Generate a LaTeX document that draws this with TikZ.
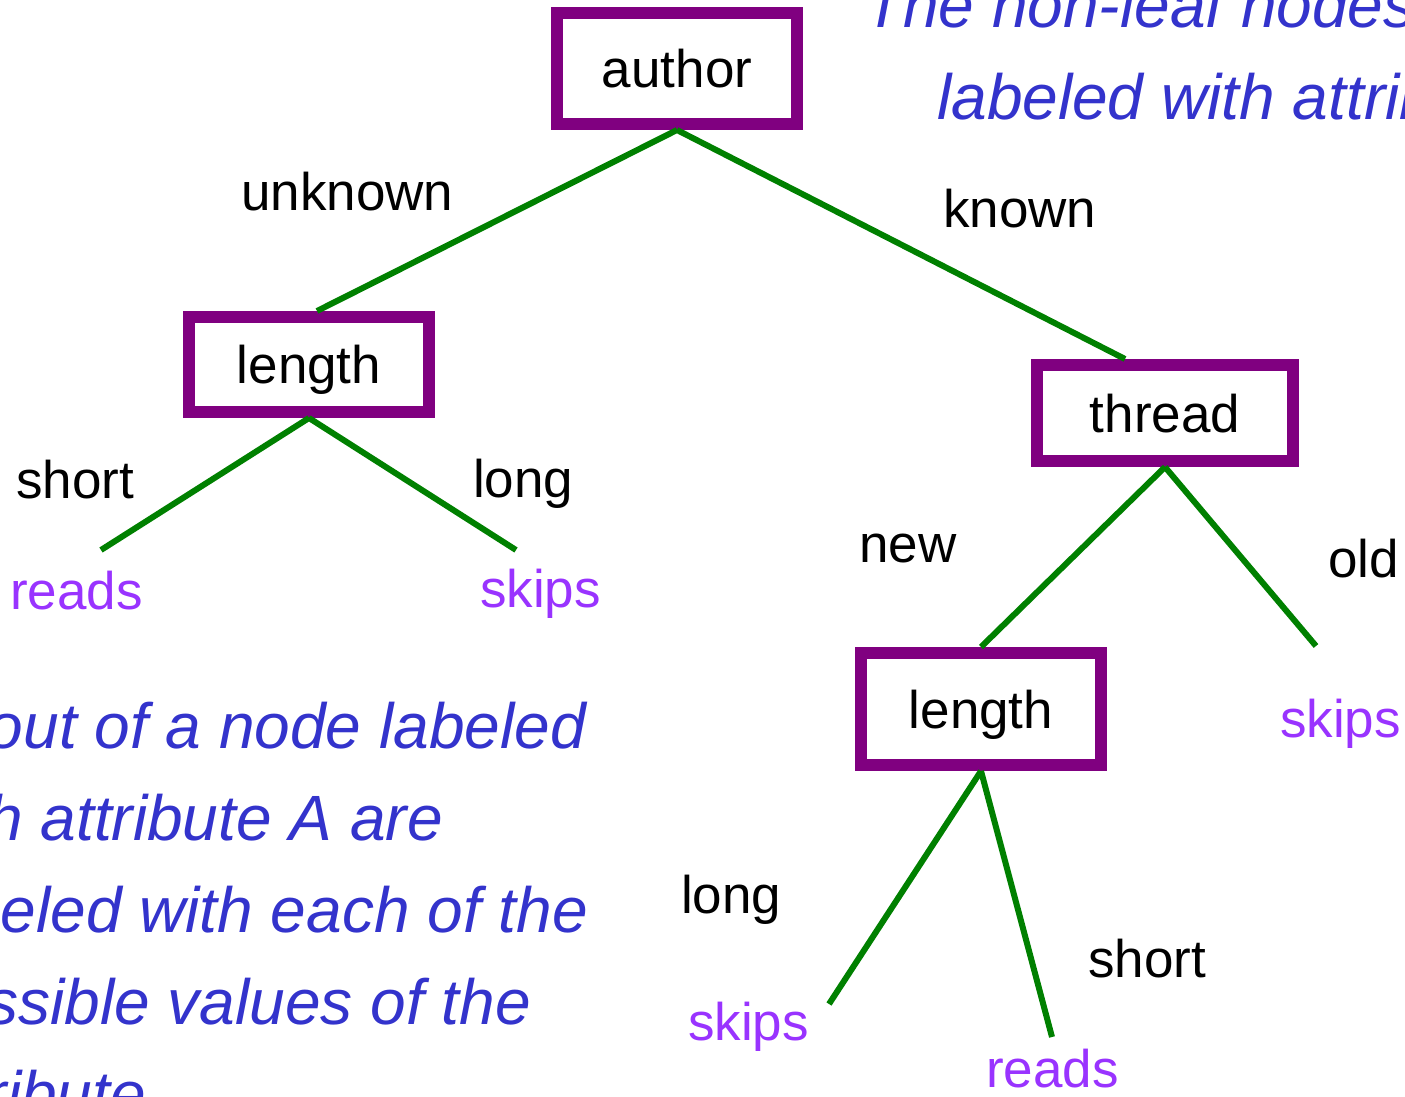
\documentclass[tikz,border=0pt]{standalone}
\usepackage{fontspec}
\setmainfont{Liberation Sans}
\definecolor{boxpurple}{RGB}{128,0,128}
\definecolor{arcgreen}{RGB}{0,128,0}
\definecolor{leafviolet}{RGB}{153,51,255}
\definecolor{noteblue}{RGB}{51,51,204}
\tikzset{
  attr/.style={draw=boxpurple, line width=12pt, fill=white, minimum width=240pt,
    inner sep=0pt, text height=38pt, text depth=0pt, font=\fontsize{53pt}{63pt}\selectfont},
  arc/.style={draw=arcgreen, line width=6pt},
  val/.style={anchor=base west, inner sep=0pt, font=\fontsize{53pt}{63pt}\selectfont},
  leaf/.style={anchor=base west, inner sep=0pt, text=leafviolet, font=\fontsize{53pt}{63pt}\selectfont},
  note/.style={inner sep=0pt, text=noteblue, font=\fontsize{64pt}{92pt}\selectfont\itshape}
}
\begin{document}
\begin{tikzpicture}[x=1pt, y=-1pt]
\useasboundingbox (0,0) rectangle (1405,1097);
\clip (0,0) rectangle (1405,1097);

% explanatory notes
\node[note, anchor=base west] (n1) at (864,28) {The non-leaf nodes are};
\node[note, anchor=base west] (n2) at (937,120) {labeled with attributes.};
\node[note, anchor=base east] (m1) at (586,748) {Arcs out of a node labeled};
\node[note, anchor=base east] (m2) at (443,840) {with attribute A are};
\node[note, anchor=base east] (m3) at (588,932) {labeled with each of the};
\node[note, anchor=base east] (m4) at (531,1024) {possible values of the};
\node[note, anchor=base east] (m5) at (146,1116) {attribute};

% attribute nodes
\node[attr, minimum height=111pt] (author) at (677,68.5) {author};
\node[attr, minimum height=95pt] (len1) at (309,364.5) {length};
\node[attr, minimum width=256pt, minimum height=96pt] (thread) at (1165,413) {thread};
\node[attr, minimum height=112pt] (len2) at (981,709) {length};

% free ends of the arcs into leaves
\coordinate (e1) at (101,550);
\coordinate (e2) at (516,550);
\coordinate (e3) at (1316,646);
\coordinate (e4) at (829,1004);
\coordinate (e5) at (1052,1037);

% arcs
\draw[arc] (author.south) -- ([xshift=8pt]len1.north);
\draw[arc] (author.south) -- ([xshift=-40pt]thread.north);
\draw[arc] (len1.south) -- (e1);
\draw[arc] (len1.south) -- (e2);
\draw[arc] (thread.south) -- (len2.north);
\draw[arc] (thread.south) -- (e3);
\draw[arc] (len2.south) -- (e4);
\draw[arc] (len2.south) -- (e5);

% arc values
\node[val] (v1) at (241,210) {unknown};
\node[val] (v2) at (943,227) {known};
\node[val] (v3) at (16,498) {short};
\node[val] (v4) at (473,497) {long};
\node[val] (v5) at (859,562) {new};
\node[val] (v6) at (1328,577) {old};
\node[val] (v7) at (681,913) {long};
\node[val] (v8) at (1088,977) {short};

% leaves
\node[leaf] (r1) at (10,609) {reads};
\node[leaf] (s1) at (480,607) {skips};
\node[leaf] (s2) at (1280,737) {skips};
\node[leaf] (s3) at (688,1040) {skips};
\node[leaf] (r2) at (986,1087) {reads};
\end{tikzpicture}
\end{document}
